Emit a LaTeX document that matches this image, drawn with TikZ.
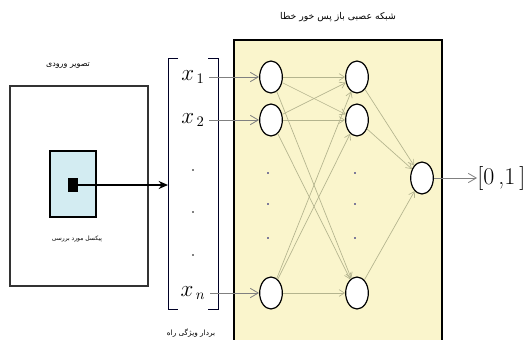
\documentclass[tikz,border=0pt]{standalone}
\usepackage{fontspec}
\newfontfamily\arabicfont[Script=Arabic]{DejaVu Sans}
\TeXXeTstate=1
\usetikzlibrary{arrows.meta,shapes.geometric}

\definecolor{netyellow}{HTML}{FAF5CC}
\definecolor{pixblue}{HTML}{D3ECF2}
\definecolor{linkgray}{HTML}{B4B48E}

\begin{document}
\begin{tikzpicture}[x=0.75pt,y=-0.75pt,
  neuron/.style={ellipse,draw,line width=0.9pt,fill=white,minimum width=17pt,minimum height=24pt,inner sep=0pt},
  link/.style={draw=linkgray,line width=0.5pt,-{Straight Barb[length=4pt,width=5pt]}},
  feed/.style={draw=gray,line width=0.6pt,-{Straight Barb[length=6pt,width=7pt]}},
  fa/.style={font=\arabicfont\fontsize{#1}{#1}\selectfont}]
  \useasboundingbox (0,0) rectangle (531,339);
  % input image
  \node[fa=6] (imgtitle) at (68,66){\beginR تصویر ورودی\endR};
  \draw[line width=1.1pt,draw=black!80] (10,86) rectangle (148,286);
  \draw[line width=1.4pt,fill=pixblue] (50,151) rectangle (96,217);
  \node[fill=black,minimum width=7.5pt,minimum height=11pt,inner sep=0pt] (pix) at (73,185){};
  \node[fa=4.5] (pixlabel) at (77,239){\beginR پیکسل مورد بررسی\endR};
  % feature vector
  \draw[line width=0.7pt,draw=black!85!blue] (178,58) -- (168,58) -- (168,309) -- (178,309);
  \draw[line width=0.7pt,draw=black!85!blue] (208,58) -- (218,58) -- (218,309) -- (208,309);
  \coordinate (vecin) at (168,185);
  \draw[line width=1.4pt,-{Stealth[length=7pt,width=6pt]}] (pix.center) -- (vecin);
  \node[font=\fontsize{16}{16}\selectfont] (x1) at (193,77){$x_{\,1}$};
  \node[font=\fontsize{16}{16}\selectfont] (x2) at (193,120){$x_{\,2}$};
  \node[font=\fontsize{16}{16}\selectfont] (xn) at (193,293){$x_{\,n}$};
  \foreach \y in {170,212,255} \fill (193,\y) circle (0.9);
  \node[fa=5.5] (veclabel) at (191,333){\beginR بردار ویژگی راه\endR};
  % network
  \node[fa=7] (nettitle) at (338,17){\beginR شبکه عصبی باز پس خور خطا\endR};
  \draw[line width=1.2pt,fill=netyellow] (234,40) rectangle (442,345);
  \node[neuron] (a1) at (271,77){};
  \node[neuron] (a2) at (271,120){};
  \node[neuron] (an) at (271,293){};
  \node[neuron] (b1) at (357,77){};
  \node[neuron] (b2) at (357,120){};
  \node[neuron] (bn) at (357,293){};
  \node[neuron] (out) at (422,178){};
  \foreach \y in {173,204,238} {
    \fill[blue!40!black] (268,\y) circle (0.8);
    \fill[blue!40!black] (355,\y) circle (0.8);
  }
  \foreach \s in {a1,a2,an}
    \foreach \t in {b1,b2,bn}
      \draw[link] (\s) -- (\t);
  \foreach \s in {b1,b2,bn}
    \draw[link] (\s) -- (out);
  \draw[feed] (x1.east) -- (a1.west);
  \draw[feed] (x2.east) -- (a2.west);
  \draw[feed] (xn.east) -- (an.west);
  \node[font=\fontsize{18}{18}\selectfont,anchor=west,inner sep=0pt] (range) at (477,178){[0\,,1\,]};
  \draw[feed] (out.east) -- (range.west);
\end{tikzpicture}
\end{document}
